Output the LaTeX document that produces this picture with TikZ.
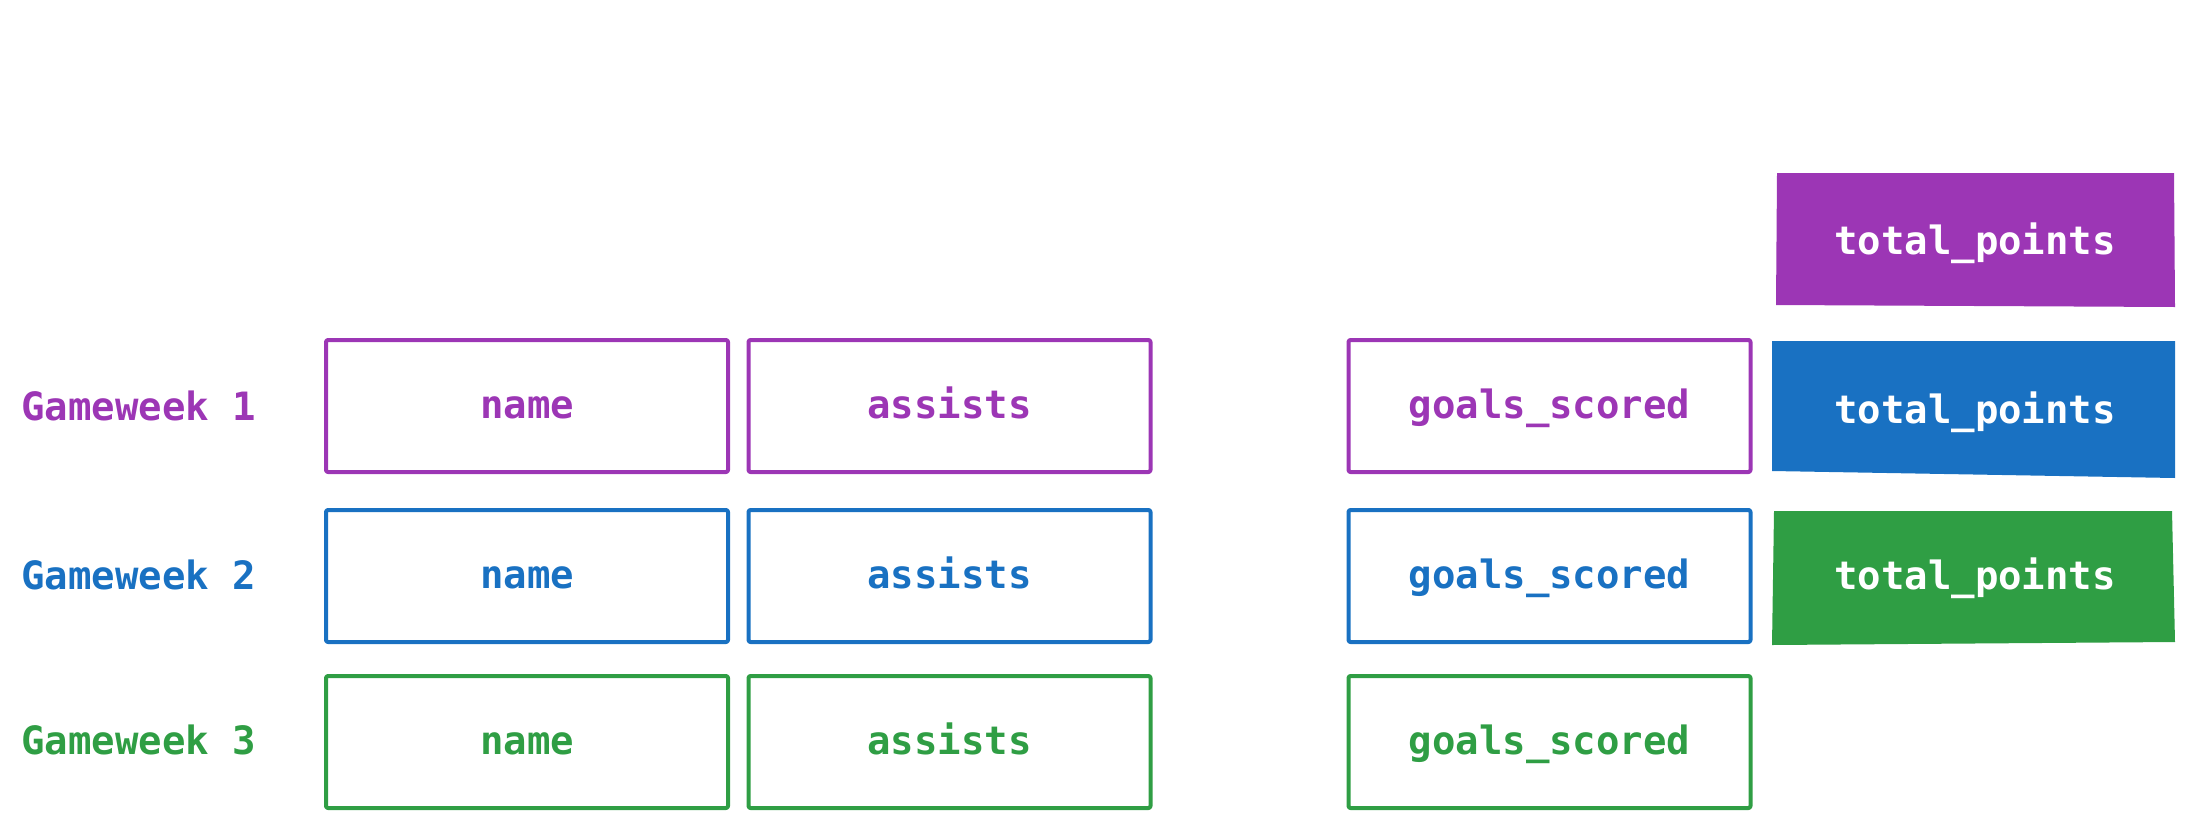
\documentclass[tikz,border=0pt]{standalone}
\usepackage{fontspec}
\setmonofont{DejaVu Sans Mono}
\definecolor{cpur}{HTML}{9C36B5}
\definecolor{cblu}{HTML}{1971C2}
\definecolor{cgrn}{HTML}{2F9E44}
\begin{document}
\begin{tikzpicture}[x=1pt,y=-1pt,
  lbl/.style={font=\ttfamily\bfseries\fontsize{39}{46}\selectfont,text height=29pt,text depth=4pt},
  cell/.style={lbl,draw=#1,text=#1,line width=4pt,rounded corners=2pt,
    minimum width=402pt,minimum height=132pt,inner sep=0pt,line join=round},
  week/.style={lbl,text=#1,anchor=west,inner sep=0pt},
  tot/.style={lbl,text=white,inner sep=0pt}]
\useasboundingbox (0,0) rectangle (2195,828);
% row labels
\node[week=cpur] (w1) at (21,408) {Gameweek 1};
\node[week=cblu] (w2) at (21,577) {Gameweek 2};
\node[week=cgrn] (w3) at (21,742) {Gameweek 3};
% row 1
\node[cell=cpur] (n1) at (527,406) {name};
\node[cell=cpur] (a1) at (949.5,406) {assists};
\node[cell=cpur] (g1) at (1549.5,406) {goals\_scored};
% row 2
\node[cell=cblu] (n2) at (527,576) {name};
\node[cell=cblu] (a2) at (949.5,576) {assists};
\node[cell=cblu] (g2) at (1549.5,576) {goals\_scored};
% row 3
\node[cell=cgrn] (n3) at (527,742) {name};
\node[cell=cgrn] (a3) at (949.5,742) {assists};
\node[cell=cgrn] (g3) at (1549.5,742) {goals\_scored};
% total points blocks
\fill[cpur] (1777,173) -- (2174,173) -- (2175,307) -- (1776,305) -- cycle;
\fill[cblu] (1772,341) -- (2175,341) -- (2175,478) -- (1772,471) -- cycle;
\fill[cgrn] (1774,511) -- (2172,511) -- (2175,642) -- (1772,645) -- cycle;
\node[tot] (t1) at (1975,242) {total\_points};
\node[tot] (t2) at (1975,411) {total\_points};
\node[tot] (t3) at (1975,577) {total\_points};
\end{tikzpicture}
\end{document}
